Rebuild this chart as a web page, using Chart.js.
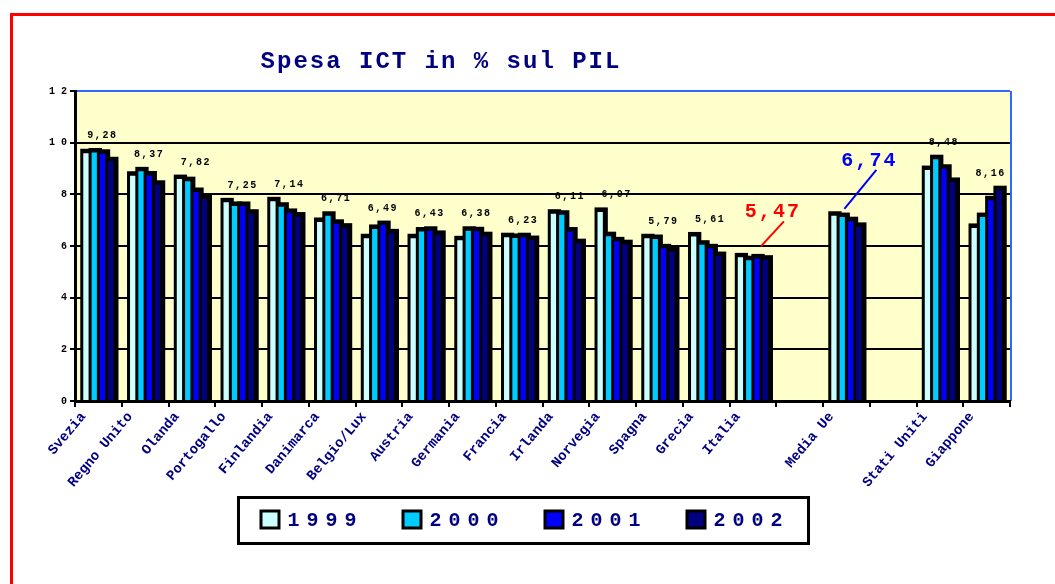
<!DOCTYPE html>
<html>
<head>
<meta charset="utf-8">
<script src="https://cdn.jsdelivr.net/npm/chart.js@4"></script>
<style>
  html, body { margin: 0; padding: 0; background: #ffffff; }
  #wrap { width: 1055px; height: 584px; }
</style>
</head>
<body>
<div id="wrap"><canvas id="ictChart" width="1055" height="584"></canvas></div>
<script>
// Spesa ICT in % del PIL, 1999-2002
var categories = ['Svezia', 'Regno Unito', 'Olanda', 'Portogallo', 'Finlandia', 'Danimarca',
    'Belgio/Lux', 'Austria', 'Germania', 'Francia', 'Irlanda', 'Norvegia', 'Spagna', 'Grecia',
    'Italia', '', 'Media Ue', '', 'Stati Uniti', 'Giappone'];
var years = ['1999', '2000', '2001', '2002'];
var v1999 = [9.59, 8.72, 8.59, 7.69, 7.73, 6.93, 6.30, 6.30, 6.22, 6.34, 7.25, 7.32, 6.30, 6.37, 5.56, null, 7.17, null, 8.94, 6.70];
var v2000 = [9.62, 8.89, 8.51, 7.55, 7.52, 7.17, 6.66, 6.56, 6.59, 6.31, 7.21, 6.38, 6.27, 6.05, 5.45, null, 7.12, null, 9.36, 7.12];
var v2001 = [9.57, 8.73, 8.09, 7.55, 7.28, 6.86, 6.81, 6.59, 6.57, 6.34, 6.56, 6.18, 5.91, 5.91, 5.52, null, 6.96, null, 8.99, 7.77];
var v2002 = [9.28, 8.37, 7.82, 7.25, 7.14, 6.71, 6.49, 6.43, 6.38, 6.23, 6.11, 6.07, 5.79, 5.61, 5.47, null, 6.74, null, 8.48, 8.16];
var yTicks = [0, 2, 4, 6, 8, 10, 12];

var series = [v1999, v2000, v2001, v2002];
var colors = ['#CCFFFF', '#00CCFF', '#0000FF', '#000080'];
var NAVY = '#000080';
var MONO = '"Liberation Mono", "Courier New", monospace';

function fmt(v) {
    return v.toFixed(2).replace('.', ',');
}

// page frame, plot background, blue plot border
var framePlugin = {
    id: 'frame',
    beforeDraw: function (chart) {
        var ctx = chart.ctx, a = chart.chartArea;
        ctx.save();
        ctx.fillStyle = '#FFFFCC';
        ctx.fillRect(a.left, a.top, a.right - a.left, a.bottom - a.top);
        ctx.strokeStyle = '#3366FF';
        ctx.lineWidth = 2;
        ctx.beginPath();
        ctx.moveTo(a.right + 1, a.top);
        ctx.lineTo(a.right + 1, a.bottom);
        ctx.stroke();
        ctx.strokeStyle = '#FF0000';
        ctx.lineWidth = 3;
        ctx.strokeRect(11.5, 14.5, 1200, 800);
        ctx.restore();
    }
};

// black outline / depth behind every bar
var shadowPlugin = {
    id: 'barShadow',
    beforeDatasetsDraw: function (chart) {
        var ctx = chart.ctx;
        ctx.save();
        ctx.fillStyle = '#000000';
        chart.data.datasets.forEach(function (ds, i) {
            chart.getDatasetMeta(i).data.forEach(function (bar, j) {
                if (ds.data[j] == null) return;
                var p = bar.getProps(['x', 'y', 'base', 'width'], true);
                ctx.fillRect(p.x - p.width / 2 - 3, p.y - 4.5, p.width + 8, p.base - p.y + 4.5);
            });
        });
        ctx.restore();
    }
};

// value labels (2002), highlighted Italia / Media Ue, title and legend
var textPlugin = {
    id: 'texts',
    afterDraw: function (chart) {
        var ctx = chart.ctx;
        var x = chart.scales.x, y = chart.scales.y;
        ctx.save();
        ctx.textBaseline = 'middle';
        ctx.textAlign = 'center';

        categories.forEach(function (name, i) {
            var val = v2002[i];
            if (val == null) return;
            var top = Math.max(v1999[i], v2000[i], v2001[i], v2002[i]);
            var cx = x.getPixelForValue(i);
            var py = y.getPixelForValue(top);
            var hl = null;
            if (name === 'Italia') hl = { c: '#FF0000', t: [20, -45], a: [31, -36], b: [8, -11] };
            if (name === 'Media Ue') hl = { c: '#0000FF', t: [23, -55], a: [30, -46], b: [-2, -7] };
            if (hl) {
                ctx.strokeStyle = hl.c;
                ctx.lineWidth = 2;
                ctx.beginPath();
                ctx.moveTo(cx + hl.a[0], py + hl.a[1]);
                ctx.lineTo(cx + hl.b[0], py + hl.b[1]);
                ctx.stroke();
                ctx.fillStyle = hl.c;
                ctx.font = 'bold 20px ' + MONO;
                ctx.letterSpacing = '2px';
                ctx.fillText(fmt(val), cx + hl.t[0], py + hl.t[1]);
            } else {
                ctx.fillStyle = '#000000';
                ctx.font = 'bold 10px ' + MONO;
                ctx.letterSpacing = '1.5px';
                ctx.fillText(fmt(val), cx + 4, py - 17);
            }
        });

        // title
        ctx.fillStyle = NAVY;
        ctx.font = 'bold 24px ' + MONO;
        ctx.letterSpacing = '2px';
        ctx.fillText('Spesa ICT in % sul PIL', 441, 62);

        // legend
        var lx = 238.5, ly = 497.5, lw = 570, lh = 46;
        ctx.fillStyle = '#FFFFFF';
        ctx.fillRect(lx, ly, lw, lh);
        ctx.strokeStyle = '#000000';
        ctx.lineWidth = 3;
        ctx.strokeRect(lx, ly, lw, lh);
        ctx.textAlign = 'left';
        ctx.font = 'bold 20px ' + MONO;
        ctx.letterSpacing = '7px';
        years.forEach(function (yr, i) {
            var sx = lx + 21 + i * 142, sy = ly + lh / 2 - 1;
            ctx.fillStyle = '#000000';
            ctx.fillRect(sx, sy - 10, 21, 20);
            ctx.fillStyle = colors[i];
            ctx.fillRect(sx + 3, sy - 7, 15, 14);
            ctx.fillStyle = NAVY;
            ctx.fillText(yr, sx + 28, sy + 1);
        });
        ctx.restore();
    }
};

var ctx = document.getElementById('ictChart').getContext('2d');
var chart = new Chart(ctx, {
    type: 'bar',
    data: {
        labels: categories,
        datasets: series.map(function (d, i) {
            return {
                label: years[i],
                data: d,
                backgroundColor: colors[i],
                borderWidth: 0,
                categoryPercentage: 0.71,
                barPercentage: 0.64
            };
        })
    },
    options: {
        responsive: false,
        animation: false,
        layout: { padding: { top: 91, right: 45, left: 0, bottom: 0 } },
        plugins: {
            legend: { display: false },
            title: { display: false },
            tooltip: { enabled: false }
        },
        scales: {
            y: {
                min: 0,
                max: 12,
                afterBuildTicks: function (scale) {
                    scale.ticks = yTicks.map(function (v) { return { value: v }; });
                },
                afterFit: function (scale) { scale.width = 75; },
                border: { color: '#000000', width: 3 },
                grid: {
                    color: function (c) { return c.tick && c.tick.value === 12 ? '#3366FF' : '#000000'; },
                    tickColor: '#000000',
                    lineWidth: 2,
                    tickLength: 5
                },
                ticks: {
                    color: '#000000',
                    padding: 3,
                    font: { family: MONO, size: 10, weight: 'bold' },
                    callback: function (v) { return String(v).split('').join(' '); }
                }
            },
            x: {
                afterFit: function (scale) { scale.height = 183; },
                border: { color: '#000000', width: 3 },
                grid: {
                    offset: true,
                    drawOnChartArea: false,
                    color: '#000000',
                    lineWidth: 2,
                    tickLength: 6
                },
                ticks: {
                    color: NAVY,
                    autoSkip: false,
                    minRotation: 50,
                    maxRotation: 50,
                    labelOffset: -15,
                    padding: 2,
                    font: { family: MONO, size: 14, weight: 'bold' }
                }
            }
        }
    },
    plugins: [framePlugin, shadowPlugin, textPlugin]
});
</script>
</body>
</html>
